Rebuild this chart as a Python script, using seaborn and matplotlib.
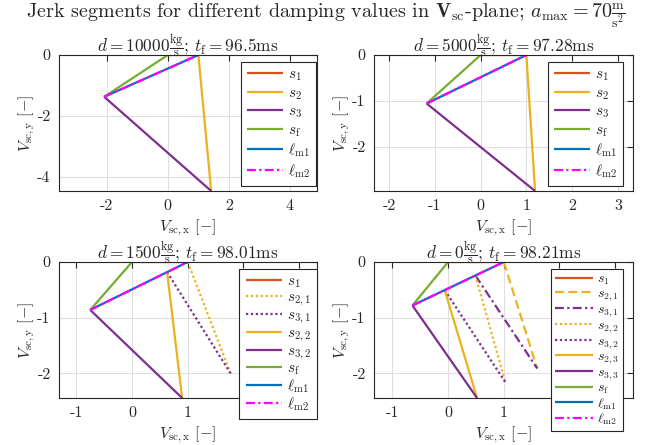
import numpy as np
import pandas as pd
import matplotlib
matplotlib.use("Agg")
import matplotlib.pyplot as plt
import seaborn as sns

# ---------------- data ----------------
d_values = ["10000", "5000", "1500", "0"]
tf_values = ["96.5", "97.28", "98.01", "98.21"]

# panel 1: d = 10000
p1_labels = ["s1", "s2", "s3", "sf", "lm1", "lm2"]
p1_x = [[0, 1], [1, 1.42], [-2.09, 1.42], [-2.09, 0], [-2.09, 1], [-2.09, 1]]
p1_y = [[0, 0], [0, -4.46], [-1.37, -4.46], [-1.37, 0], [-1.37, 0], [-1.37, 0]]

# panel 2: d = 5000
p2_labels = ["s1", "s2", "s3", "sf", "lm1", "lm2"]
p2_x = [[0, 1], [1, 1.19], [-1.18, 1.19], [-1.18, 0], [-1.18, 1], [-1.18, 1]]
p2_y = [[0, 0], [0, -2.97], [-1.06, -2.97], [-1.06, 0], [-1.06, 0], [-1.06, 0]]

# panel 3: d = 1500
p3_labels = ["s1", "s21", "s31", "s22", "s32", "sf", "lm1", "lm2"]
p3_x = [[0, 1], [1, 1.77], [0.63, 1.77], [0.63, 0.9], [-0.75, 0.9],
        [-0.75, 0], [-0.75, 1], [-0.75, 1]]
p3_y = [[0, 0], [0, -2.0], [-0.18, -2.0], [-0.18, -2.44], [-0.86, -2.44],
        [-0.86, 0], [-0.86, 0], [-0.86, 0]]

# panel 4: d = 0
p4_labels = ["s1", "s21", "s31", "s22", "s32", "s23", "s33", "sf", "lm1", "lm2"]
p4_x = [[0, 1], [1, 1.6], [0.49, 1.6], [0.49, 1.03], [-0.06, 1.03],
        [-0.06, 0.52], [-0.64, 0.52], [-0.64, 0], [-0.64, 1], [-0.64, 1]]
p4_y = [[0, 0], [0, -1.91], [-0.24, -1.91], [-0.24, -2.16], [-0.505, -2.16],
        [-0.505, -2.44], [-0.78, -2.44], [-0.78, 0], [-0.78, 0], [-0.78, 0]]

# tick labels (ticks under the legend box are hidden in the reference)
top_left_xticks = ["-2", "0", "2", "4"]
top_right_xticks = ["-2", "-1", "0", "1", "2", "3"]
bottom_xticks = ["-1", "0", "1", "", ""]

# ---------------- styling ----------------
sns.set_theme(style="white")
plt.rcParams.update({
    "font.family": ["cmr10", "DejaVu Serif"],
    "mathtext.fontset": "cm",
    "axes.unicode_minus": False,
    "axes.formatter.use_mathtext": False,
})

C_S1 = "#D95319"
C_S2 = "#EDB120"
C_S3 = "#7E2F8E"
C_SF = "#77AC30"
C_L1 = "#0072BD"
C_L2 = "#FF00FF"

legend_text = {
    "s1": r"$s_1$", "s2": r"$s_2$", "s3": r"$s_3$",
    "s21": r"$s_{2,1}$", "s31": r"$s_{3,1}$", "s22": r"$s_{2,2}$",
    "s32": r"$s_{3,2}$", "s23": r"$s_{2,3}$", "s33": r"$s_{3,3}$",
    "sf": r"$s_\mathrm{f}$", "lm1": r"$\ell_\mathrm{m1}$", "lm2": r"$\ell_\mathrm{m2}$",
}

dot = (0, (1, 1.2))
dashed = (0, (4, 2))
dashdot = (0, (4, 1.5, 1, 1.5))

styles_p12 = {"s1": (C_S1, "-"), "s2": (C_S2, "-"), "s3": (C_S3, "-"),
              "sf": (C_SF, "-"), "lm1": (C_L1, "-"), "lm2": (C_L2, dashdot)}
styles_p3 = {"s1": (C_S1, "-"), "s21": (C_S2, dot), "s31": (C_S3, dot),
             "s22": (C_S2, "-"), "s32": (C_S3, "-"),
             "sf": (C_SF, "-"), "lm1": (C_L1, "-"), "lm2": (C_L2, dashdot)}
styles_p4 = {"s1": (C_S1, "-"), "s21": (C_S2, dashed), "s31": (C_S3, dashdot),
             "s22": (C_S2, dot), "s32": (C_S3, dot),
             "s23": (C_S2, "-"), "s33": (C_S3, "-"),
             "sf": (C_SF, "-"), "lm1": (C_L1, "-"), "lm2": (C_L2, dashdot)}

W, H = 652, 445
fig = plt.figure(figsize=(W / 100, H / 100), dpi=100)

def ax_at(l, t, r, b):
    return fig.add_axes([l / W, 1 - b / H, (r - l) / W, (b - t) / H])

# (axes, labels, x, y, styles, xlim, ylim, xticks, xticklabels, yticks,
#  legend corner, labelspacing, legend fontsize, handlelength, borderpad)
panels = [
    (ax_at(59, 55, 317, 191), p1_labels, p1_x, p1_y, styles_p12,
     (-3.57, 4.89), (-4.46, 0), [-2, 0, 2, 4], top_left_xticks, [-4, -2, 0],
     (316, 62), 0.2, 11, 2.4, 0.4),
    (ax_at(374, 55, 633, 191), p2_labels, p2_x, p2_y, styles_p12,
     (-2.33, 3.33), (-2.97, 0), [-2, -1, 0, 1, 2, 3], top_right_xticks, [-2, -1, 0],
     (623, 62), 0.2, 11, 2.4, 0.4),
    (ax_at(59, 262, 317, 398), p3_labels, p3_x, p3_y, styles_p3,
     (-1.31, 3.32), (-2.44, 0), [-1, 0, 1, 2, 3], bottom_xticks, [-2, -1, 0],
     (317, 269), 0.02, 11, 2.4, 0.4),
    (ax_at(374, 262, 633, 398), p4_labels, p4_x, p4_y, styles_p4,
     (-1.33, 3.32), (-2.44, 0), [-1, 0, 1, 2, 3], bottom_xticks, [-2, -1, 0],
     (623, 269), 0.0, 10, 2.7, 0.3),
]

for i, (ax, labels, xs, ys, styles, xl, yl, xt, xtl, yt, lg, lsp, lfs, hl, bp) in enumerate(panels):
    for lab, sx, sy in zip(labels, xs, ys):
        col, ls = styles[lab]
        df = pd.DataFrame({"x": sx, "y": sy})
        sns.lineplot(data=df, x="x", y="y", ax=ax, sort=False, color=col,
                     linestyle=ls, linewidth=1.6, label=legend_text[lab],
                     solid_capstyle="butt", dash_capstyle="butt")
    ax.set_xlim(*xl)
    ax.set_ylim(*yl)
    ax.set_xticks(xt)
    ax.set_xticklabels(xtl)
    ax.set_yticks(yt)
    ax.grid(True, color="#dfdfdf", linewidth=0.8)
    ax.set_axisbelow(True)
    for sp in ax.spines.values():
        sp.set_color("#262626")
        sp.set_linewidth(0.8)
    ax.tick_params(direction="in", top=True, right=True, length=4,
                   width=0.8, colors="#262626", labelsize=11.5, pad=6)
    ax.set_xlabel(r"$V_\mathrm{sc,x}$ $[-]$", fontsize=11.5, labelpad=3)
    ax.set_ylabel(r"$V_\mathrm{sc,y}$ $[-]$", fontsize=11.5, labelpad=0.5)
    ax.set_title(r"$d = %s\frac{\mathrm{kg}}{\mathrm{s}}$; $t_\mathrm{f} = %s\mathrm{ms}$"
                 % (d_values[i], tf_values[i]), fontsize=12.5, pad=2)
    handles, texts = ax.get_legend_handles_labels()
    leg = ax.legend(handles, texts, loc="upper right",
                    bbox_to_anchor=(lg[0] / W, 1 - lg[1] / H),
                    bbox_transform=fig.transFigure, borderaxespad=0,
                    fontsize=lfs, handlelength=hl, handletextpad=0.3,
                    labelspacing=lsp, borderpad=bp, fancybox=False,
                    framealpha=1, edgecolor="#262626")
    leg.get_frame().set_linewidth(0.8)
    leg.set_zorder(10)

fig.suptitle(r"Jerk segments for different damping values in $\mathbf{V}_\mathrm{sc}$-plane; "
             r"$a_\mathrm{max} = 70\frac{\mathrm{m}}{\mathrm{s}^2}$",
             fontsize=14.5, y=1 - 16 / H, va="center")

fig.savefig("out.png", dpi=100, facecolor="white")
